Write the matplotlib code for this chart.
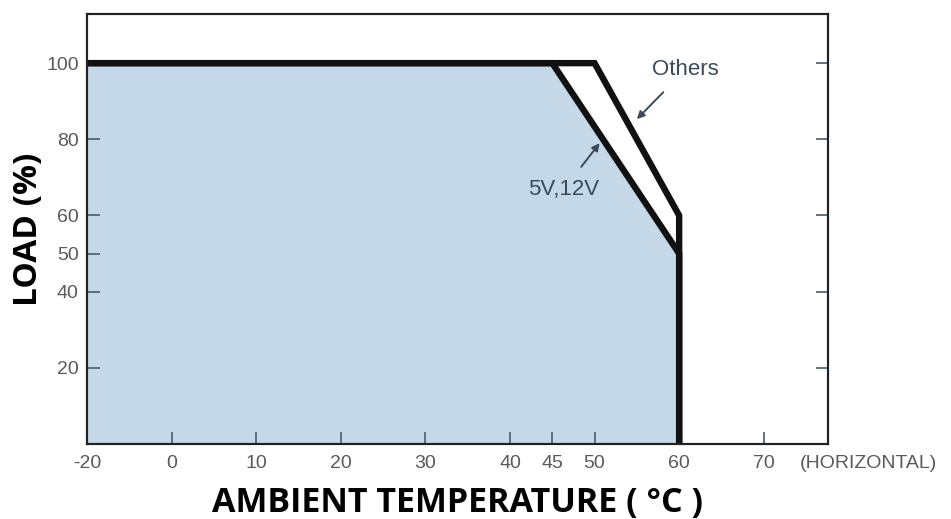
import matplotlib.pyplot as plt
import numpy as np

# derating curves (temperature in degC, load in %)
temp_5v12v = [-20, 45, 60, 60]
load_5v12v = [100, 100, 50, 0]
temp_others = [-20, 50, 60, 60]
load_others = [100, 100, 60, 0]

xticks = [-20, 0, 10, 20, 30, 40, 45, 50, 60, 70]
yticks_left = [20, 40, 50, 60, 80, 100]
yticks_right = [20, 40, 60, 80, 100]


def pos(t):
    # the -20..0 span is drawn at half scale
    t = np.asarray(t, dtype=float)
    return np.where(t < 0, t / 2.0, t)


fig = plt.figure(figsize=(9.51, 5.19), dpi=100)
ax = fig.add_axes([0.0915, 0.1445, 0.7792, 0.8285])

x5 = pos(temp_5v12v)
xo = pos(temp_others)

ax.fill_between(x5, load_5v12v, 0, color='#c5d8e7', lw=0, zorder=1)
ax.plot(xo, load_others, color='#111111', lw=4.6, solid_joinstyle='miter', zorder=3)
ax.plot(x5, load_5v12v, color='#111111', lw=4.6, solid_joinstyle='miter', zorder=3)

ax.set_xlim(-10, 77.6)
ax.set_ylim(0, 112.9)

tick_col = '#5a5a5a'
ax.set_xticks(pos(xticks))
ax.set_xticklabels([str(t) for t in xticks])
ax.set_yticks(yticks_left)
ax.set_yticklabels([str(v) for v in yticks_left])
ax.tick_params(axis='both', direction='in', length=9, width=1.2, color='#4a5a6a',
               labelcolor=tick_col, labelsize=14, labelfontfamily='Liberation Sans')
ax.tick_params(axis='x', pad=8)
ax.tick_params(axis='y', pad=6)

# right side ticks without labels
ax2 = ax.twinx()
ax2.set_ylim(ax.get_ylim())
ax2.set_yticks(yticks_right)
ax2.set_yticklabels([])
ax2.tick_params(axis='y', direction='in', length=9, width=1.2, color='#4a5a6a')

for a in (ax, ax2):
    for s in a.spines.values():
        s.set_color('#222222')
        s.set_linewidth(1.5)

ax.text(0.962, -0.046, '(HORIZONTAL)', transform=ax.transAxes, ha='left', va='center',
        fontsize=14, color=tick_col, family='Liberation Sans')

ann_col = '#3b4b5c'
ax.annotate('Others', xy=(55.0, 85.3), xytext=(60.7, 98.2), ha='center', va='center',
            fontsize=16, color=ann_col, family='Liberation Sans',
            arrowprops=dict(arrowstyle='-|>', color=ann_col, lw=1.4, mutation_scale=11,
                            shrinkA=9, shrinkB=0))
ax.annotate('5V,12V', xy=(50.6, 79.0), xytext=(46.3, 66.7), ha='center', va='center',
            fontsize=16, color=ann_col, family='Liberation Sans',
            arrowprops=dict(arrowstyle='-|>', color=ann_col, lw=1.4, mutation_scale=11,
                            shrinkA=9, shrinkB=0))

ax.set_xlabel('AMBIENT TEMPERATURE ( °C )', fontsize=24.5, fontweight='bold',
              family='Open Sans', color='black', labelpad=10)
ax.set_ylabel('LOAD (%)', fontsize=24, fontweight='bold', family='Open Sans',
              color='black', labelpad=1)

fig.savefig('out.png', dpi=100)
